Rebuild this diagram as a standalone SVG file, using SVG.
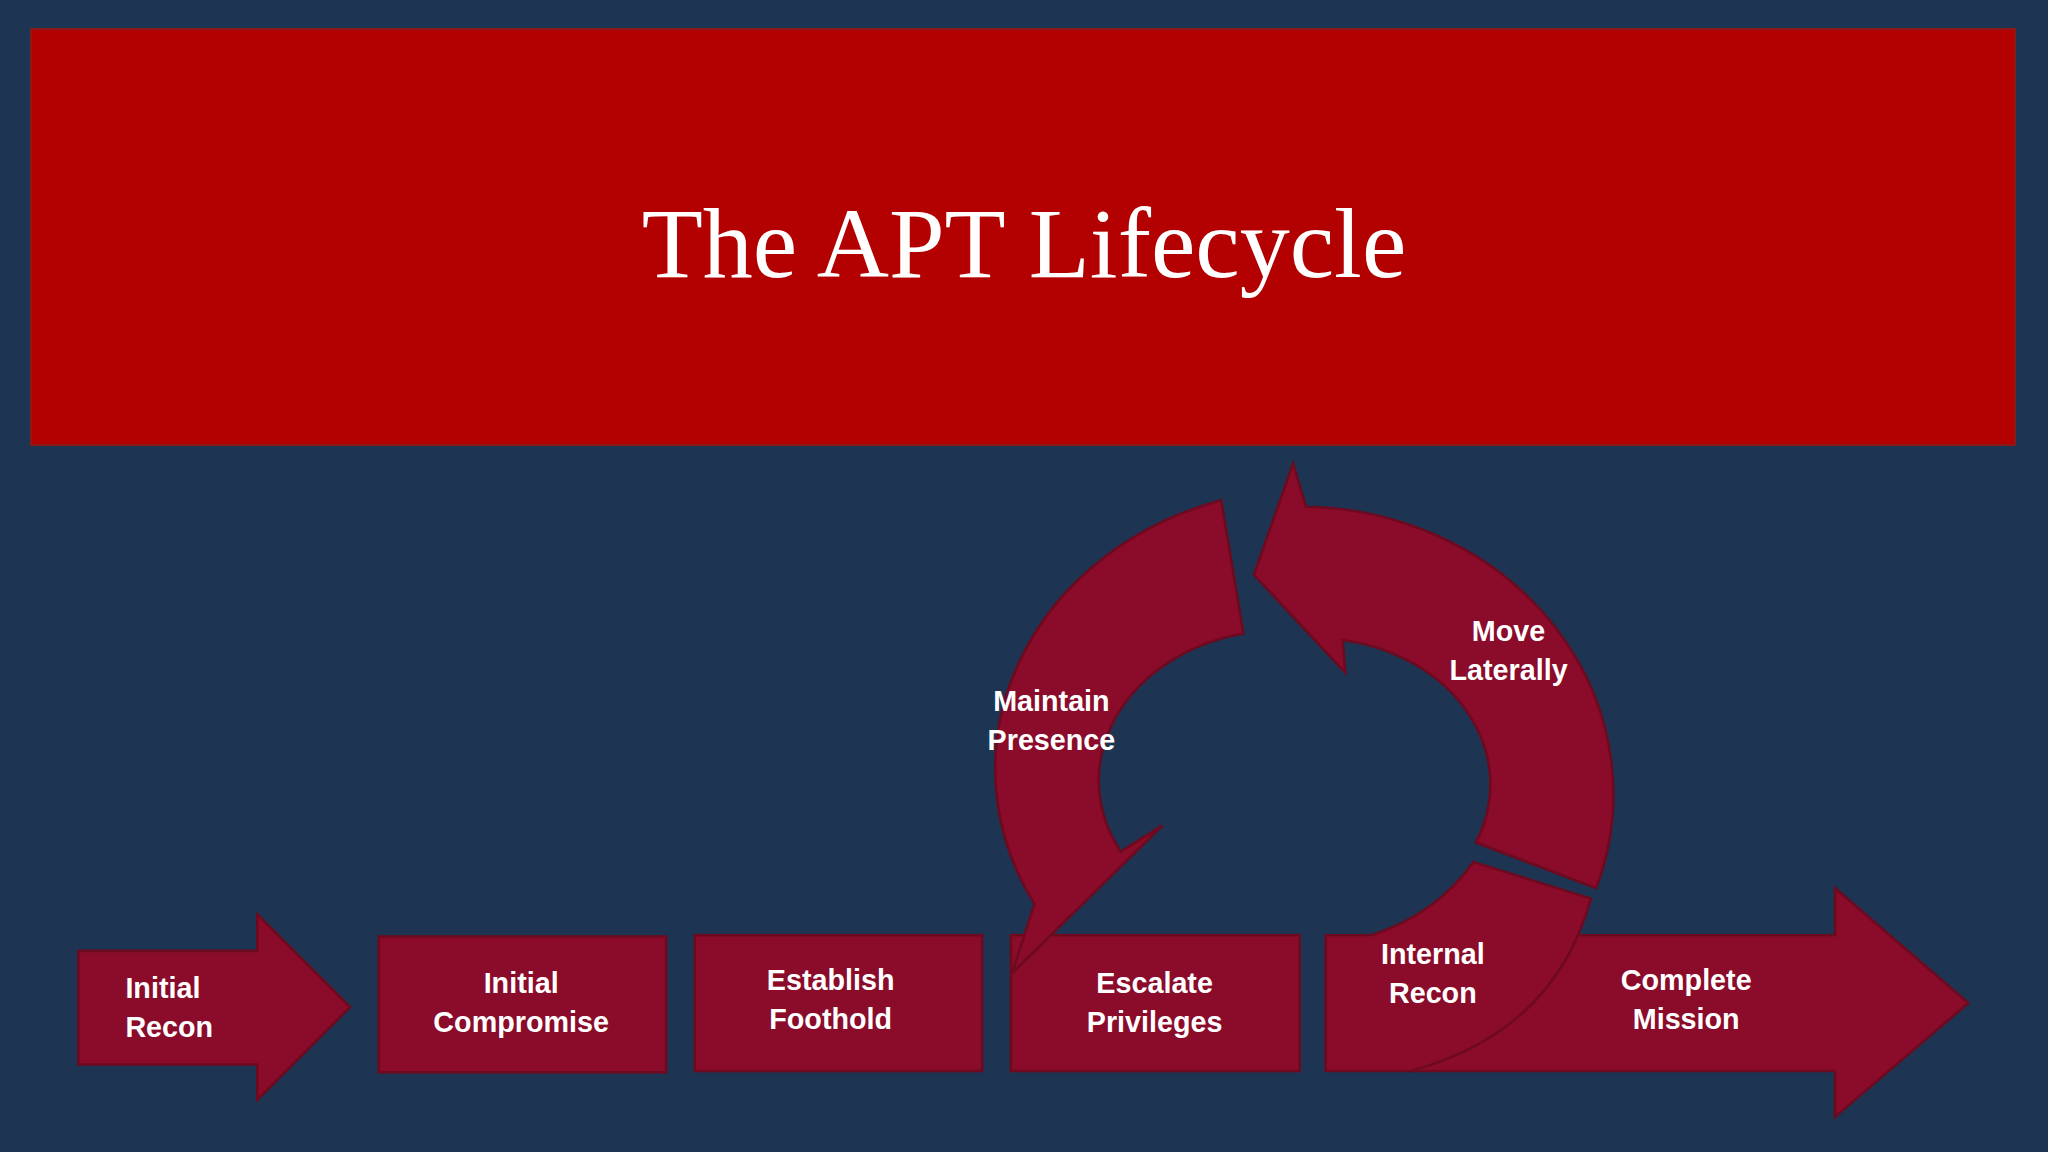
<svg xmlns="http://www.w3.org/2000/svg" width="2048" height="1152" viewBox="0 0 2048 1152">
<style>
.s{fill:#8a0c2a;stroke:#6e0a20;stroke-width:2}
.t{fill:#fff;font-family:"Liberation Sans Narrow","Liberation Sans",sans-serif;font-weight:bold;font-size:22px}
.c{text-anchor:middle}
</style>
<rect width="2048" height="1152" fill="#1d3552"/>
<g id="title"><rect x="31" y="29" width="1984" height="416" fill="#b30000" stroke="#8a1a1a" stroke-width="2"/>
<text x="1024" y="277" text-anchor="middle" font-family="Liberation Serif,serif" font-size="100" fill="#fff">The APT Lifecycle</text></g>
<g transform="scale(1.30612)">
<g id="complete"><path class="s" d="M1080,716 L1405,716 L1405,680 L1507,768 L1405,855 L1405,820 L1080,820 Z"/>
<text class="t c" x="1291" y="758">Complete</text><text class="t c" x="1291" y="788">Mission</text></g>
<g id="recon"><path class="s" d="M60,728 L197,728 L197,700 L268,771 L197,842 L197,815 L60,815 Z"/>
<text class="t" x="96" y="764">Initial</text><text class="t" x="96" y="794">Recon</text></g>
<g id="compromise"><rect class="s" x="290" y="717" width="220" height="104"/>
<text class="t c" x="399" y="760">Initial</text><text class="t c" x="399" y="790">Compromise</text></g>
<g id="foothold"><rect class="s" x="532" y="716" width="220" height="104"/>
<text class="t c" x="636" y="758">Establish</text><text class="t c" x="636" y="788">Foothold</text></g>
<g id="escalate"><rect class="s" x="774" y="716" width="221" height="104"/>
<text class="t c" x="884" y="760">Escalate</text><text class="t c" x="884" y="790">Privileges</text></g>
<g id="internal"><path class="s" d="M1015,716 L1050,716 Q1100,700 1128,660 L1218,688 Q1190,790 1080,820 L1015,820 Z"/>
<text class="t c" x="1097" y="738">Internal</text><text class="t c" x="1097" y="768">Recon</text></g>
<g id="maintain"><path class="s" d="M935,383 A244 215 0 0 0 792,692 L775,745 L890,632 L858,652 A140 115 0 0 1 952,485 Z"/>
<text class="t c" x="805" y="544">Maintain</text><text class="t c" x="805" y="574">Presence</text></g>
<g id="lateral"><path class="s" d="M990,355 L960,440 L1030,515 L1028,490 A135 112 0 0 1 1130,645 L1222,680 A240 220 0 0 0 1000,388 Z"/>
<text class="t c" x="1155" y="491">Move</text><text class="t c" x="1155" y="521">Laterally</text></g>
</g>
</svg>
